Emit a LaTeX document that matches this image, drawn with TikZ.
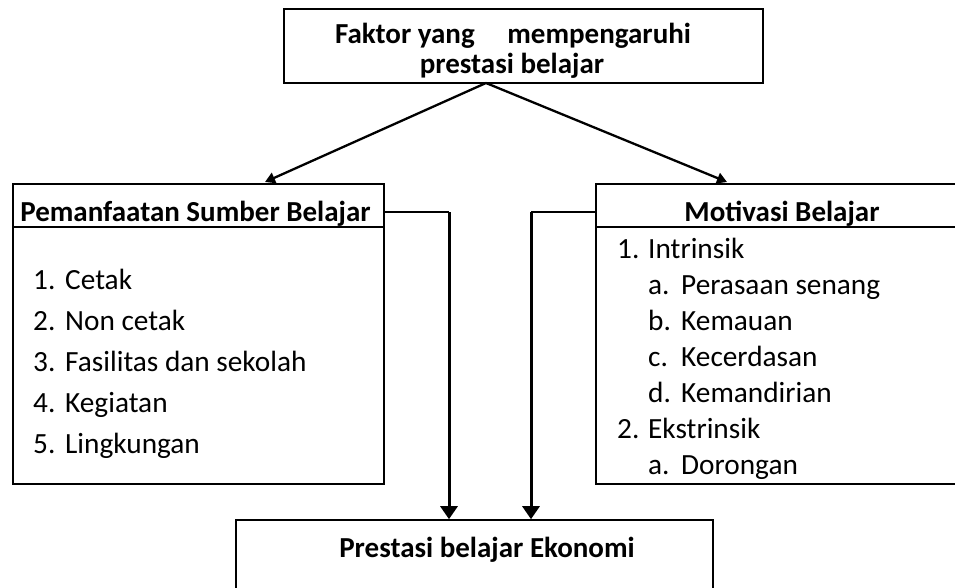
\documentclass[tikz,border=0pt]{standalone}
\usepackage{fontspec}
\setmainfont{Carlito}
\usetikzlibrary{arrows.meta}
\begin{document}
\begin{tikzpicture}[x=1pt,y=-1pt,
  box/.style={draw, line width=1.6pt, rectangle, inner sep=0pt},
  txt/.style={inner sep=0pt, font=\fontsize{29.3}{35}\selectfont},
  btxt/.style={inner sep=0pt, font=\fontsize{29}{35}\selectfont\bfseries},
  arr/.style={line width=2.3pt, -{Triangle[length=10pt,width=11pt]}},
  arrv/.style={line width=3pt, -{Triangle[length=13pt,width=17pt]}},
  thinline/.style={line width=1.3pt}]
\useasboundingbox (0,0) rectangle (955,588);
\clip (0,0) rectangle (955,588);
% top box
\node[box, minimum width=479pt, minimum height=74pt] (top) at (523.5,46) {};
\node[btxt, anchor=base] (topl1) at (513,44) {\makebox[356pt][l]{Faktor yang\hfill mempengaruhi}};
\node[btxt, anchor=base] (topl2) at (512,74) {prestasi belajar};
% left box
\node[box, minimum width=371pt, minimum height=300pt] (left) at (198.5,334) {};
\node[box, minimum width=371pt, minimum height=43pt] (lhead) at (198.5,205.5) {};
\node[btxt, anchor=base] (lheadt) at (195.5,221) {Pemanfaatan Sumber Belajar};
\node[txt, anchor=base west] (l1) at (33,289) {\makebox[32pt][l]{1.}Cetak};
\node[txt, anchor=base west] (l2) at (33,330) {\makebox[32pt][l]{2.}Non cetak};
\node[txt, anchor=base west] (l3) at (33,371) {\makebox[32pt][l]{3.}Fasilitas dan sekolah};
\node[txt, anchor=base west] (l4) at (33,412) {\makebox[32pt][l]{4.}Kegiatan};
\node[txt, anchor=base west] (l5) at (33,453) {\makebox[32pt][l]{5.}Lingkungan};
% right box
\node[box, minimum width=379pt, minimum height=300pt] (right) at (785.5,334) {};
\node[box, minimum width=379pt, minimum height=43pt] (rhead) at (785.5,205.5) {};
\node[btxt, anchor=base] (rheadt) at (782,222) {Motivasi Belajar};
\begin{scope}
\clip (597,228) rectangle (960,483);
\node[txt, anchor=base west] (r1) at (617,258) {\makebox[31pt][l]{1.}Intrinsik};
\node[txt, anchor=base west] (r1a) at (648,294) {\makebox[33pt][l]{a.}Perasaan senang};
\node[txt, anchor=base west] (r1b) at (648,330) {\makebox[33pt][l]{b.}Kemauan};
\node[txt, anchor=base west] (r1c) at (648,366) {\makebox[33pt][l]{c.}Kecerdasan};
\node[txt, anchor=base west] (r1d) at (648,402) {\makebox[33pt][l]{d.}Kemandirian};
\node[txt, anchor=base west] (r2) at (617,438) {\makebox[31pt][l]{2.}Ekstrinsik};
\node[txt, anchor=base west] (r2a) at (648,474) {\makebox[33pt][l]{a.}Dorongan};
\end{scope}
% bottom box
\node[box, minimum width=477pt, minimum height=120pt] (res) at (474.5,580) {};
\node[btxt, anchor=base] (rest) at (487,557) {Prestasi belajar Ekonomi};
% connectors
\coordinate (tsrc) at (486,83);
\coordinate (ltip) at (265,182);
\coordinate (rtip) at (727,182);
\draw[arr] (tsrc) -- (ltip);
\draw[arr] (tsrc) -- (rtip);
\coordinate (lc) at (449,212);
\coordinate (rc) at (531,212);
\draw[thinline] (lhead.east |- lc) -- (lc);
\draw[arrv] (lc) -- (res.north -| lc);
\draw[thinline] (rhead.west |- rc) -- (rc);
\draw[arrv] (rc) -- (res.north -| rc);
\end{tikzpicture}
\end{document}
